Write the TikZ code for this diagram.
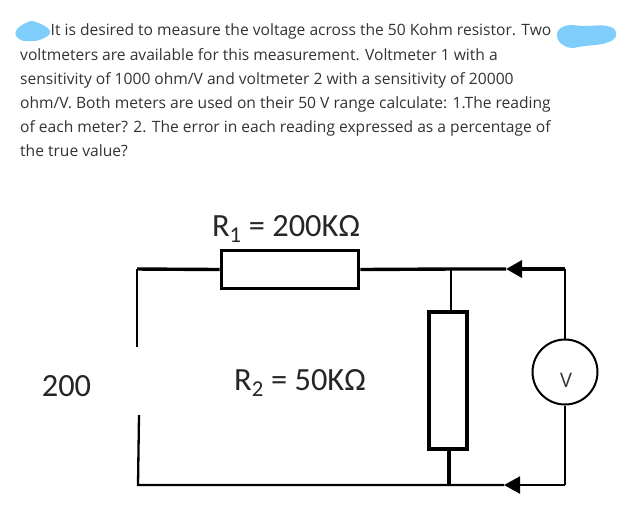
\documentclass[tikz,border=0pt]{standalone}
\usepackage{fontspec}
\setmainfont{Open Sans}
\newfontfamily\calfont{Carlito}
\usetikzlibrary{arrows.meta}
\definecolor{blot}{HTML}{7FCDFB}
\definecolor{ink}{HTML}{333333}
\tikzset{
  wire/.style={line width=2.3pt},
  heavy/.style={line width=3.4pt},
  res/.style={draw,line width=3.8pt,fill=white,minimum width=0pt,inner sep=0pt},
  arr/.style={-{Triangle[length=16pt,width=17pt]}},
  line/.style={anchor=base west,font=\fontsize{15.6}{18}\selectfont,text=ink,inner sep=0pt},
  lab/.style={font=\calfont\fontsize{32.4}{34}\selectfont,text=black!85,inner sep=0pt}
}
\begin{document}
\begin{tikzpicture}[xscale=0.3515,yscale=-0.3515]
%%\draw[help lines] (0,0) grid (63,51.4);
\useasboundingbox (0,0) rectangle (63,51.4);
\fill[white] (0,0) rectangle (63,51.4);
% the two blots over the text
\fill[blot] plot[smooth cycle,tension=0.8] coordinates {(1.6,3.1) (2.6,2.3) (3.6,2.2) (5,3.1) (4.2,3.9) (2.9,4.1) (1.9,3.9)};
\fill[blot] plot[smooth cycle,tension=0.8] coordinates {(55.7,3.6) (56.5,2.6) (58.5,2.6) (60.7,2.6) (61.6,3.3) (60.9,4.2) (58.5,4.6) (56.7,4.7)};
% question
\node[line] (l1) at (5.05,3.58) {It is desired to measure the voltage across the 50 Kohm resistor. Two};
\node[line] (l2) at (2,6.0) {voltmeters are available for this measurement. Voltmeter 1 with a};
\node[line] (l3) at (2,8.4) {sensitivity of 1000 ohm/V and voltmeter 2 with a sensitivity of 20000};
\node[line] (l4) at (2,10.8) {ohm/V. Both meters are used on their 50 V range calculate: 1.The reading};
\node[line] (l5) at (2,13.2) {of each meter? 2. The error in each reading expressed as a percentage of};
\node[line] (l6) at (2,15.6) {the true value?};
% corners of the circuit
\coordinate (tl) at (13.7,26.9);
\coordinate (tj) at (45.1,26.9);
\coordinate (ta) at (50.6,26.9);
\coordinate (tr) at (56.5,26.9);
\coordinate (bl) at (13.8,48.5);
\coordinate (bj) at (44.9,48.5);
\coordinate (ba) at (50.4,48.5);
\coordinate (br) at (56.5,48.5);
\coordinate (gu) at (13.7,34.7);
\coordinate (gd) at (13.9,41.5);
% parts
\node[res,minimum width=137pt,minimum height=38pt] (r1) at (29.0,26.95) {};
\node[res,minimum width=38pt,minimum height=137pt] (r2) at (44.8,38.05) {};
\node[draw,circle,line width=2pt,fill=white,minimum size=65pt,inner sep=0pt] (vm) at (56.5,37.2) {};
\node[font=\fontsize{20}{22}\selectfont,text=ink,inner sep=0pt] (vt) at (56.6,38) {V};
% wires
\draw[heavy] (tl)--(r1.west);
\draw[wire] (gu)--(tl);
\draw[heavy] (r1.east)--(tj)--(ta);
\draw[heavy,arr] (tr)--(ta);
\draw[wire] (tr)--(vm.north);
\draw[wire] (vm.south)--(br);
\draw[wire,arr] (br)--(ba);
\draw[wire] (ba)--(bl)--(gd);
\draw[wire] (tj)--(tj|-r2.north);
\draw[heavy] (bj|-r2.south)--(bj);
% labels
\node[lab] (r1l) at (28.6,22.9) {R\textsubscript{1} = 200KΩ};
\node[lab] (r2l) at (30,38.3) {R\textsubscript{2} = 50KΩ};
\node[lab] (src) at (6.65,38.6) {200};
\end{tikzpicture}
\end{document}
